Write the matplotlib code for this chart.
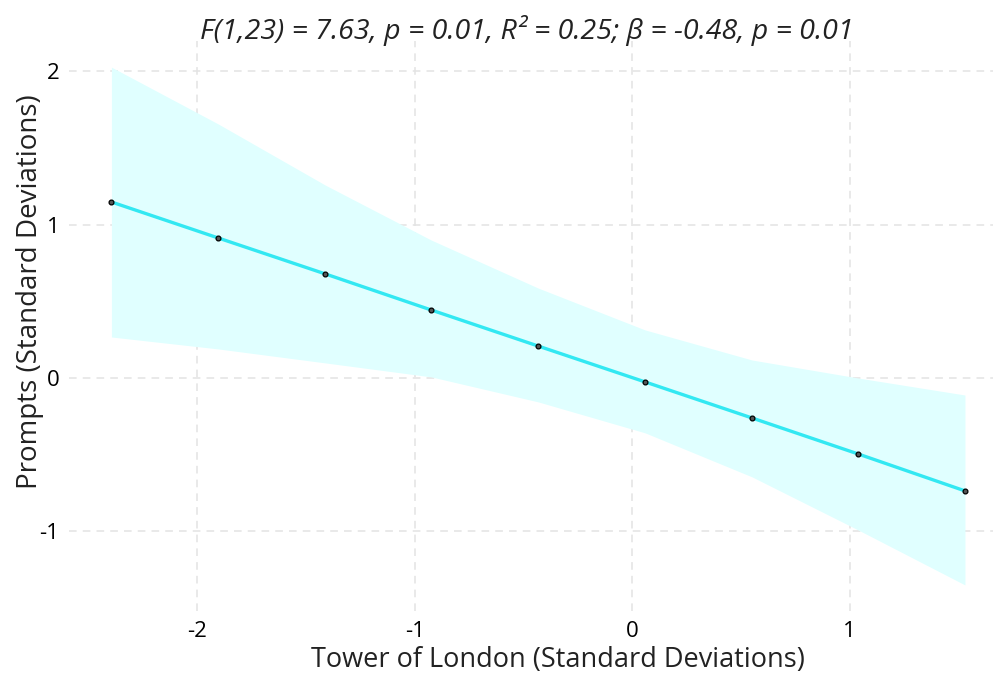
import matplotlib
matplotlib.use("Agg")
import matplotlib.pyplot as plt
import numpy as np

plt.rcParams['font.family'] = ['Open Sans', 'DejaVu Sans']
plt.rcParams['axes.unicode_minus'] = False

# fitted line points (standardised)
tol = [-2.395, -1.903, -1.411, -0.924, -0.432, 0.060, 0.552, 1.039, 1.531]
prompts = [1.147, 0.912, 0.678, 0.443, 0.208, -0.026, -0.261, -0.495, -0.736]
# confidence band
ci_upper = [2.026, 1.655, 1.257, 0.899, 0.586, 0.313, 0.117, 0.0, -0.111]
ci_lower = [0.267, 0.189, 0.098, 0.007, -0.156, -0.358, -0.645, -0.990, -1.349]

xticks = [-2, -1, 0, 1]
yticks = [-1, 0, 1, 2]
title = "F(1,23) = 7.63, p = 0.01, R² = 0.25; β = -0.48, p = 0.01"

fig = plt.figure(figsize=(9.93, 6.75), dpi=100)
ax = fig.add_axes([0.0695, 0.095, 0.9305, 0.844])

ax.fill_between(tol, ci_lower, ci_upper, color='#e0ffff', lw=0, zorder=1)
ax.plot(tol, prompts, color='#33e8f2', lw=2.4, zorder=3)
ax.scatter(tol, prompts, s=12, facecolor='#555555', edgecolor='black', lw=0.9, zorder=4)

ax.set_xlim(-2.59, 1.66)
ax.set_ylim(-1.518, 2.195)
ax.set_xticks(xticks)
ax.set_yticks(yticks)
ax.grid(True, ls=(0, (5, 4)), color='#e3e3e3', lw=1.1, zorder=0)
ax.set_axisbelow(True)
for s in ax.spines.values():
    s.set_visible(False)
ax.tick_params(length=0, labelsize=16, colors='black', pad=7)

ax.set_xlabel('Tower of London (Standard Deviations)', fontsize=19.5, color='#222222', va='center')
ax.xaxis.set_label_coords(0.529, -0.086)
ax.set_ylabel('Prompts (Standard Deviations)', fontsize=20, color='#222222', va='center')
ax.yaxis.set_label_coords(-0.042, 0.56)

fig.text(0.531, 0.955, title, fontsize=20.5, style='italic', ha='center', va='center', color='#222222')

fig.savefig('out.png', dpi=100)
